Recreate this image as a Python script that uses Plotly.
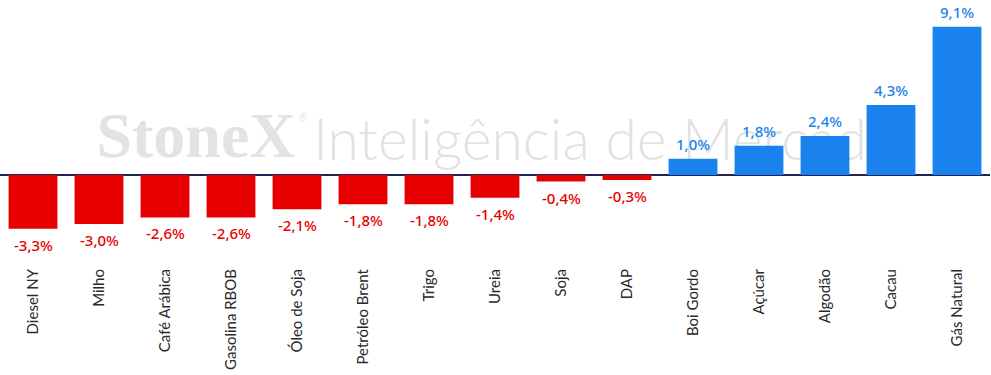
import plotly.graph_objects as go

categories = ["Diesel NY", "Milho", "Café Arábica", "Gasolina RBOB", "Óleo de Soja",
              "Petróleo Brent", "Trigo", "Ureia", "Soja", "DAP", "Boi Gordo",
              "Açúcar", "Algodão", "Cacau", "Gás Natural"]
values = [-3.3, -3.0, -2.6, -2.6, -2.1, -1.8, -1.8, -1.4, -0.4, -0.3, 1.0, 1.8, 2.4, 4.3, 9.1]
labels = [f"{v:.1f}%".replace(".", ",") for v in values]

RED = "#e60000"
BLUE = "#1a82ee"
colors = [RED if v < 0 else BLUE for v in values]

W, H = 991, 375
ML, MR, MT, MB = 0, 1, 0, 110
plot_h = H - MT - MB
plot_w = W - ML - MR
zero_px = 175
ppu = 16.3
y_top = (zero_px - MT) / ppu
y_bot = -(MT + plot_h - zero_px) / ppu

fig = go.Figure()
fig.add_trace(go.Bar(x=categories, y=values, marker=dict(color=colors, line=dict(width=0)),
                     hoverinfo="skip"))

for c, v, t, col in zip(categories, values, labels, colors):
    fig.add_annotation(x=c, y=v, text=t, showarrow=False, yanchor="middle",
                       yshift=15 if v > 0 else -16,
                       font=dict(family="Noto Sans", size=15, weight=500, color=col))

def px_x(px):
    return (px - ML) / plot_w

def px_y(px):
    return 1 - (px - MT) / plot_h

# watermark (below the bars)
fig.add_shape(type="rect", xref="paper", yref="paper", layer="below",
              x0=px_x(100), x1=px_x(292), y0=px_y(154), y1=px_y(102),
              line=dict(width=0), fillcolor="rgba(0,0,0,0)",
              label=dict(text="<b>StoneX</b>", textposition="middle center",
                         font=dict(family="Liberation Serif", size=64, color="#e3e3e3")))
fig.add_shape(type="rect", xref="paper", yref="paper", layer="below",
              x0=px_x(298), x1=px_x(308), y0=px_y(122), y1=px_y(110),
              line=dict(width=0), fillcolor="rgba(0,0,0,0)",
              label=dict(text="®", textposition="middle center",
                         font=dict(family="Liberation Sans", size=10, color="#e3e3e3")))
fig.add_shape(type="rect", xref="paper", yref="paper", layer="below",
              x0=px_x(330), x1=px_x(882), y0=px_y(168), y1=px_y(106),
              line=dict(width=0), fillcolor="rgba(0,0,0,0)",
              label=dict(text="Inteligência de Mercado", textposition="middle center",
                         font=dict(family="Lato", size=57, weight=300, color="#e2e2e2")))

fig.update_layout(
    width=W, height=H,
    margin=dict(l=ML, r=MR, t=MT, b=MB),
    paper_bgcolor="white", plot_bgcolor="white",
    bargap=0.26, showlegend=False,
    xaxis=dict(type="category", tickangle=-90, showline=False, showgrid=False,
               ticks="", tickfont=dict(family="Lato", size=15, color="#2a2a2a"),
               range=[-0.5, len(categories) - 0.5], automargin=False),
    yaxis=dict(range=[y_bot, y_top], showgrid=False, showticklabels=False,
               zeroline=True, zerolinecolor="#1c2556", zerolinewidth=1.5),
)

fig.write_html("out.html", config={"displayModeBar": False},
               post_script="document.body.style.margin='0';")
